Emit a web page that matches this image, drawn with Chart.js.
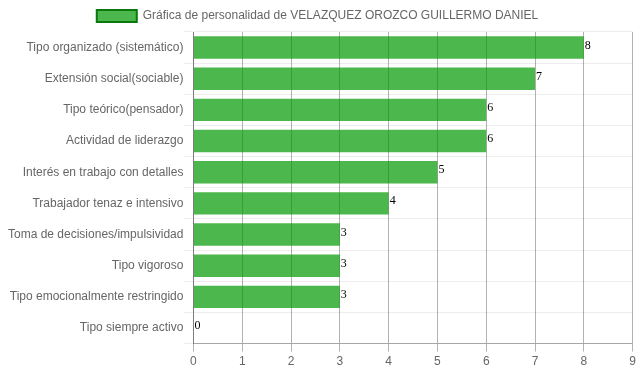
<!DOCTYPE html>
<html>
<head>
<meta charset="utf-8">
<script src="https://cdn.jsdelivr.net/npm/chart.js@4/dist/chart.umd.min.js"></script>
<style>
    body { margin: 0; background: #fff; }
    #wrap { width: 639px; height: 372px; position: relative; }
</style>
</head>
<body>
<div id="wrap"><canvas id="personalidadChart"></canvas></div>
<script>
// Datos de la grafica
const etiquetas = [
    'Tipo organizado (sistemático)',
    'Extensión social(sociable)',
    'Tipo teórico(pensador)',
    'Actividad de liderazgo',
    'Interés en trabajo con detalles',
    'Trabajador tenaz e intensivo',
    'Toma de decisiones/impulsividad',
    'Tipo vigoroso',
    'Tipo emocionalmente restringido',
    'Tipo siempre activo'
];
const puntajes = [8, 7, 6, 6, 5, 4, 3, 3, 3, 0];
const ticksX = [0, 1, 2, 3, 4, 5, 6, 7, 8, 9];

const VERDE = 'rgba(0, 153, 0, 0.7)';
const VERDE_BORDE = 'rgb(10, 120, 10)';

/**
 * Dibuja el valor al final de cada barra
 */
const valorEnBarra = {
    id: 'valorEnBarra',
    afterDatasetsDraw(chart) {
        const ctx = chart.ctx;
        ctx.save();
        ctx.font = "12px 'Liberation Serif', serif";
        ctx.fillStyle = '#000';
        ctx.textAlign = 'left';
        ctx.textBaseline = 'alphabetic';
        chart.getDatasetMeta(0).data.forEach(function (bar, i) {
            ctx.fillText(puntajes[i], bar.x + 1, bar.y + 1);
        });
        ctx.restore();
    }
};

new Chart(document.getElementById('personalidadChart'), {
    type: 'bar',
    data: {
        labels: etiquetas,
        datasets: [{
            label: 'Gráfica de personalidad de VELAZQUEZ OROZCO GUILLERMO DANIEL',
            data: puntajes,
            backgroundColor: VERDE,
            borderWidth: 0
        }]
    },
    options: {
        indexAxis: 'y',
        responsive: true,
        maintainAspectRatio: false,
        animation: false,
        layout: { padding: { right: 4 } },
        plugins: {
            tooltip: { enabled: false },
            legend: {
                labels: {
                    color: '#666',
                    font: { family: "'Liberation Sans', Arial, sans-serif", size: 12 },
                    boxWidth: 40,
                    generateLabels: function (chart) {
                        return chart.data.datasets.map(function (ds, i) {
                            return {
                                text: ds.label,
                                fillStyle: VERDE,
                                strokeStyle: VERDE_BORDE,
                                lineWidth: 2,
                                fontColor: '#666',
                                datasetIndex: i
                            };
                        });
                    }
                }
            }
        },
        scales: {
            x: {
                min: 0,
                max: 9,
                afterBuildTicks: function (axis) {
                    axis.ticks = ticksX.map(v => ({ value: v }));
                },
                grid: { color: 'rgba(0, 0, 0, 0.3)', tickLength: 8 },
                border: { color: 'rgba(0, 0, 0, 0.3)' },
                ticks: {
                    color: '#666',
                    font: { family: "'Liberation Sans', Arial, sans-serif", size: 12 }
                }
            },
            y: {
                // espacio extra a la izquierda de las etiquetas
                afterFit: function (axis) {
                    axis.width += 8;
                },
                grid: { color: 'rgba(0, 0, 0, 0.07)', tickLength: 10 },
                border: { color: 'rgba(0, 0, 0, 0.3)' },
                ticks: {
                    padding: 0,
                    color: '#666',
                    font: { family: "'Liberation Sans', Arial, sans-serif", size: 12 }
                }
            }
        }
    },
    plugins: [valorEnBarra]
});
</script>
</body>
</html>
